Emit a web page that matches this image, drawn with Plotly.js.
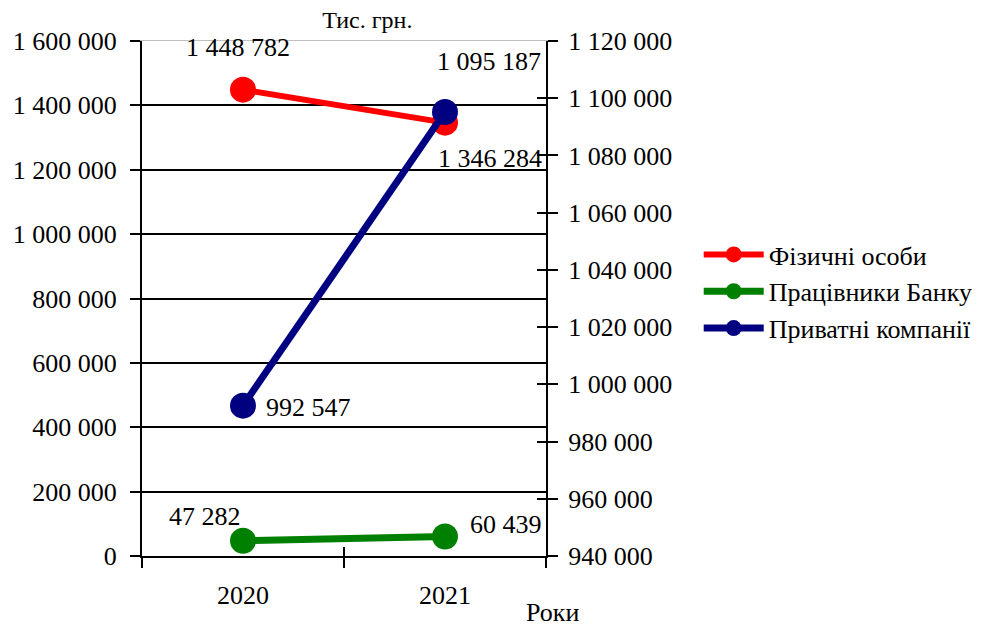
<!DOCTYPE html>
<html><head><meta charset="utf-8">
<script src="https://cdn.plot.ly/plotly-3.0.1.min.js"></script>
<style>html,body{margin:0;padding:0;background:#fff}</style>
</head><body><div id="chart" style="width:990px;height:628px"></div>
<script>
const years = ['2020', '2021'];
const individuals = [1448782, 1346284];
const bankStaff = [47282, 60439];
const privateCompanies = [992547, 1095187];
const seriesNames = ['Фізичні особи', 'Працівники Банку', 'Приватні компанії'];
const leftTicks = [0, 200000, 400000, 600000, 800000, 1000000, 1200000, 1400000, 1600000];
const rightTicks = [940000, 960000, 980000, 1000000, 1020000, 1040000, 1060000, 1080000, 1100000, 1120000];

const FONT = 'Liberation Serif';
const fmt = v => String(v).replace(/\B(?=(\d{3})+(?!\d))/g, ' ');

const traces = [
  {x: years, y: individuals, name: seriesNames[0], type: 'scatter', mode: 'lines+markers',
   line: {color: '#ff0000', width: 6}, marker: {color: '#ff0000', size: 26}, yaxis: 'y'},
  {x: years, y: bankStaff, name: seriesNames[1], type: 'scatter', mode: 'lines+markers',
   line: {color: '#008000', width: 7}, marker: {color: '#008000', size: 26}, yaxis: 'y'},
  {x: years, y: privateCompanies, name: seriesNames[2], type: 'scatter', mode: 'lines+markers',
   line: {color: '#000080', width: 7}, marker: {color: '#000080', size: 26}, yaxis: 'y2'}
];

// label offsets (pixels) per series/point
const labelOffsets = [
  [[-5, 42], [45, -36]],
  [[-38, 24], [61, 12]],
  [[65, -2], [44, 50]]
];
const seriesData = [individuals, bankStaff, privateCompanies];
const seriesAxis = ['y', 'y', 'y2'];
const annotations = [];
seriesData.forEach((vals, s) => {
  vals.forEach((v, i) => {
    annotations.push({x: i, y: v, xref: 'x', yref: seriesAxis[s], text: fmt(v),
      showarrow: false, xshift: labelOffsets[s][i][0], yshift: labelOffsets[s][i][1],
      font: {family: FONT, size: 26, color: '#000'}});
  });
});
annotations.push({xref: 'paper', yref: 'paper', x: 1.017, y: -0.109, xanchor: 'center', yanchor: 'middle',
  text: 'Роки', showarrow: false, font: {family: FONT, size: 26, color: '#000'}});

const layout = {
  width: 990, height: 628,
  margin: {l: 142, r: 444, t: 41, b: 72},
  paper_bgcolor: '#fff', plot_bgcolor: '#fff',
  separators: ', ',
  font: {family: FONT, size: 26, color: '#000'},
  title: {text: 'Тис. грн.', x: 0.371, xanchor: 'center', y: 0.968, yanchor: 'middle',
    font: {family: FONT, size: 24, color: '#000'}},
  showlegend: true,
  legend: {x: 1.378, y: 0.631, xanchor: 'left', yanchor: 'top', font: {family: FONT, size: 26, color: '#000'},
    bgcolor: 'rgba(0,0,0,0)', tracegroupgap: 0, itemwidth: 60},
  xaxis: {type: 'category', range: [-0.5, 1.5], tickson: 'boundaries', ticks: 'outside', ticklen: 10,
    tickwidth: 2, tickcolor: '#000', showgrid: false, showline: true, linecolor: '#000', linewidth: 2,
    zeroline: false, tickfont: {family: FONT, size: 26}, ticklabelstandoff: 15},
  xaxis2: {type: 'category', range: [-0.5, 1.5], overlaying: 'x', side: 'top', anchor: 'y',
    showline: true, linecolor: '#c0c0c0', linewidth: 1, ticks: '', showticklabels: false, showgrid: false, zeroline: false},
  xaxis3: {type: 'category', range: [-0.5, 1.5], overlaying: 'x', side: 'bottom', anchor: 'y', tickson: 'boundaries',
    ticks: 'inside', ticklen: 9, tickwidth: 2, tickcolor: '#000', showticklabels: false, showline: false, showgrid: false, zeroline: false},
  yaxis: {range: [0, 1600000], tickvals: leftTicks, ticktext: leftTicks.map(fmt), ticks: 'outside', ticklen: 10,
    tickwidth: 2, tickcolor: '#000', showline: true, linecolor: '#000', linewidth: 2,
    showgrid: true, gridcolor: '#000', gridwidth: 2, zeroline: false, tickfont: {family: FONT, size: 26},
    ticklabelstandoff: 8},
  yaxis2: {range: [940000, 1120000], tickvals: rightTicks, ticktext: rightTicks.map(fmt), overlaying: 'y', side: 'right',
    ticks: 'outside', ticklen: 10, tickwidth: 2, tickcolor: '#000', showline: true, linecolor: '#000', linewidth: 2,
    showgrid: false, zeroline: false, tickfont: {family: FONT, size: 26}, ticklabelstandoff: 5},
  yaxis3: {range: [940000, 1120000], tickvals: rightTicks, overlaying: 'y', side: 'right', anchor: 'x',
    ticks: 'inside', ticklen: 9, tickwidth: 2, tickcolor: '#000', showticklabels: false,
    showline: false, showgrid: false, zeroline: false},
  annotations: annotations
};
// invisible helper traces to activate the overlay axes
traces.push({x: years, y: [null, null], xaxis: 'x2', yaxis: 'y3', showlegend: false, hoverinfo: 'skip', type: 'scatter', mode: 'lines'});
traces.push({x: years, y: [null, null], xaxis: 'x3', yaxis: 'y', showlegend: false, hoverinfo: 'skip', type: 'scatter', mode: 'lines'});

Plotly.newPlot('chart', traces, layout, {displayModeBar: false, staticPlot: true});
</script></body></html>
